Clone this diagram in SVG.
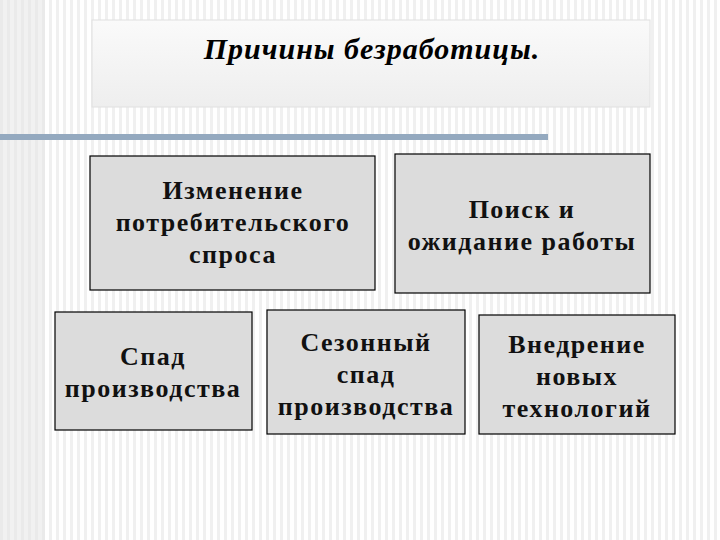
<svg xmlns="http://www.w3.org/2000/svg" width="720" height="540" viewBox="0 0 720 540">
<defs>
<pattern id="stripes" width="7" height="8" patternUnits="userSpaceOnUse">
<rect width="7" height="8" fill="#ffffff"/>
<rect x="0" width="3" height="8" fill="#f0f0f0"/>
</pattern>
<linearGradient id="tg" x1="0" y1="0" x2="0" y2="1">
<stop offset="0" stop-color="#fafafa"/><stop offset="1" stop-color="#eeeeee"/>
</linearGradient>
</defs>
<style>
.box{fill:#dcdcdc;stroke:#000;stroke-width:1.2}
.t{font-family:"Liberation Serif",serif;font-weight:bold;font-size:26px;letter-spacing:1.5px;fill:#111;text-anchor:middle}
</style>
<rect width="720" height="540" fill="url(#stripes)"/>
<rect x="0" width="45" height="540" fill="#e4e4e4" opacity="0.5"/>
<g id="title">
<rect x="92" y="20" width="558" height="87" fill="url(#tg)" stroke="#e0e0e0"/>
<text x="372" y="59" font-family="Liberation Serif,serif" font-weight="bold" font-style="italic" font-size="30" letter-spacing="1" text-anchor="middle">Причины безработицы.</text>
</g>
<rect x="0" y="134" width="548" height="6" fill="#94a9bf"/>
<g id="connectors"></g>
<g id="n1"><rect class="box" x="90" y="156" width="285" height="134"/>
<text class="t" x="233" y="199">Изменение</text><text class="t" x="233" y="231">потребительского</text><text class="t" x="233" y="263">спроса</text></g>
<g id="n2"><rect class="box" x="395" y="154" width="255" height="139"/>
<text class="t" x="522" y="218">Поиск и</text><text class="t" x="522" y="250">ожидание работы</text></g>
<g id="n3"><rect class="box" x="55" y="312" width="197" height="118"/>
<text class="t" x="153" y="365">Спад</text><text class="t" x="153" y="397">производства</text></g>
<g id="n4"><rect class="box" x="267" y="310" width="198" height="124"/>
<text class="t" x="366" y="351">Сезонный</text><text class="t" x="366" y="383">спад</text><text class="t" x="366" y="415">производства</text></g>
<g id="n5"><rect class="box" x="479" y="315" width="196" height="119"/>
<text class="t" x="577" y="353">Внедрение</text><text class="t" x="577" y="385">новых</text><text class="t" x="577" y="417">технологий</text></g>
</svg>
